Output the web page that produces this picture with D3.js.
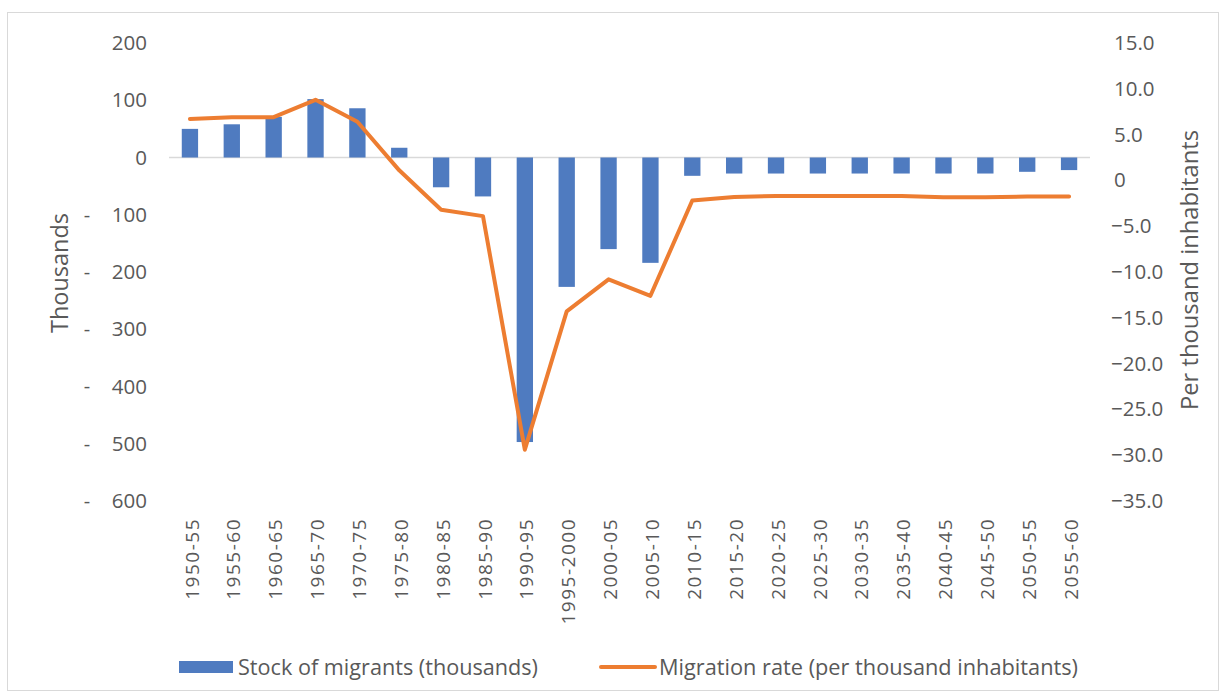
<!DOCTYPE html>
<html>
<head>
<meta charset="utf-8">
<script src="https://cdnjs.cloudflare.com/ajax/libs/d3/7.8.5/d3.min.js"></script>
<style>
  body { margin: 0; background: #fff; }
  text { font-family: "Open Sans", "Liberation Sans", sans-serif; fill: #595959; }
</style>
</head>
<body>
<div id="chart"></div>
<script>
// data
var periods = ["1950-55", "1955-60", "1960-65", "1965-70", "1970-75", "1975-80", "1980-85",
    "1985-90", "1990-95", "1995-2000", "2000-05", "2005-10", "2010-15", "2015-20", "2020-25",
    "2025-30", "2030-35", "2035-40", "2040-45", "2045-50", "2050-55", "2055-60"];
var stock = [50, 58, 71, 102, 86, 17, -52, -68, -497, -226, -160, -184,
    -32, -28, -28, -28, -28, -28, -28, -28, -25, -22];
var rate = [6.7, 6.9, 6.9, 8.8, 6.4, 1.1, -3.2, -3.9, -29.4, -14.3, -10.8, -12.6,
    -2.2, -1.8, -1.7, -1.7, -1.7, -1.7, -1.85, -1.85, -1.75, -1.75];
var leftTicks = [200, 100, 0, -100, -200, -300, -400, -500, -600];
var rightTicks = [15, 10, 5, 0, -5, -10, -15, -20, -25, -30, -35];

var svgWidth = 1226;
var svgHeight = 699;

var margin = { top: 43, right: 136, bottom: 198, left: 169 };
var width = svgWidth - margin.left - margin.right;
var height = svgHeight - margin.top - margin.bottom;

var svg = d3.select("#chart")
    .append("svg")
    .attr("width", svgWidth)
    .attr("height", svgHeight);

// outer chart border
svg.append("rect")
    .attr("x", 7.5).attr("y", 12.5)
    .attr("width", 1211).attr("height", 678)
    .attr("fill", "none")
    .attr("stroke", "#d9d9d9");

var chartGroup = svg.append("g")
    .attr("transform", `translate(${margin.left}, ${margin.top})`);

var xScale = d3.scaleBand()
    .domain(periods)
    .range([0, width])
    .paddingInner(0.61)
    .paddingOuter(0.305);

var yLeft = d3.scaleLinear().domain([-600, 200]).range([height, 0]);
var yRight = d3.scaleLinear().domain([-35, 15]).range([height, 0]);

// zero line
chartGroup.append("line")
    .attr("x1", 0).attr("x2", width)
    .attr("y1", yLeft(0)).attr("y2", yLeft(0))
    .attr("stroke", "#d9d9d9")
    .attr("stroke-width", 1.5);

// bars
chartGroup.selectAll(".bar")
    .data(stock)
    .enter()
    .append("rect")
    .attr("class", "bar")
    .attr("x", (d, i) => xScale(periods[i]))
    .attr("width", xScale.bandwidth())
    .attr("y", d => yLeft(Math.max(0, d)))
    .attr("height", d => Math.abs(yLeft(d) - yLeft(0)))
    .attr("fill", "#4f7bc0");

// line
var line = d3.line()
    .x((d, i) => xScale(periods[i]) + xScale.bandwidth() / 2)
    .y(d => yRight(d));

chartGroup.append("path")
    .datum(rate)
    .attr("d", line)
    .attr("fill", "none")
    .attr("stroke", "#ed7d31")
    .attr("stroke-width", 4)
    .attr("stroke-linejoin", "round")
    .attr("stroke-linecap", "round");

// left axis, accounting style labels
var leftAxis = chartGroup.append("g")
    .attr("class", "y-axis")
    .call(d3.axisLeft(yLeft).tickValues(leftTicks).tickSize(0).tickPadding(0)
        .tickFormat(d => Math.abs(d)));
leftAxis.select(".domain").remove();
leftAxis.selectAll("text")
    .attr("x", -22)
    .style("font-size", "20.5px")
    .style("fill", "#595959");
leftAxis.selectAll(".tick")
    .filter(d => d < 0)
    .append("text")
    .attr("x", -82)
    .attr("dy", "0.32em")
    .style("font-size", "20px")
    .style("text-anchor", "middle")
    .text("-");

// right axis
var rightAxis = chartGroup.append("g")
    .attr("class", "y-axis-right")
    .attr("transform", `translate(${width}, 0)`)
    .call(d3.axisRight(yRight).tickValues(rightTicks).tickSize(0).tickPadding(0)
        .tickFormat(d => d === 0 ? "0" : d3.format(".1f")(d)));
rightAxis.select(".domain").remove();
rightAxis.selectAll("text")
    .attr("x", d => d < 0 ? 21 : 24)
    .style("font-size", "20.5px")
    .style("fill", "#595959");

// x axis labels, rotated
var xAxis = chartGroup.append("g")
    .attr("transform", `translate(0, ${height})`)
    .call(d3.axisBottom(xScale).tickSize(0).tickPadding(0));
xAxis.select(".domain").remove();
xAxis.selectAll("text")
    .attr("transform", "rotate(-90)")
    .attr("x", -17)
    .attr("y", 2)
    .attr("dy", "0.35em")
    .style("text-anchor", "end")
    .style("font-size", "19px")
    .style("letter-spacing", "1.5px")
    .style("fill", "#595959");

// axis titles
svg.append("text")
    .attr("transform", "translate(60, 273) rotate(-90)")
    .attr("dy", "0.35em")
    .attr("textLength", 120)
    .attr("lengthAdjust", "spacingAndGlyphs")
    .style("text-anchor", "middle")
    .style("font-size", "23px")
    .text("Thousands");

svg.append("text")
    .attr("transform", "translate(1190, 270) rotate(-90)")
    .attr("dy", "0.35em")
    .attr("textLength", 280)
    .attr("lengthAdjust", "spacingAndGlyphs")
    .style("text-anchor", "middle")
    .style("font-size", "23px")
    .text("Per thousand inhabitants");

// legend
var legend = svg.append("g");
legend.append("rect")
    .attr("x", 179).attr("y", 661)
    .attr("width", 54).attr("height", 12)
    .attr("fill", "#4f7bc0");
legend.append("text")
    .attr("x", 238).attr("y", 667)
    .attr("dy", "0.35em")
    .attr("textLength", 300)
    .attr("lengthAdjust", "spacingAndGlyphs")
    .style("font-size", "22px")
    .text("Stock of migrants (thousands)");
legend.append("line")
    .attr("x1", 601).attr("x2", 655)
    .attr("y1", 667).attr("y2", 667)
    .attr("stroke", "#ed7d31")
    .attr("stroke-width", 4)
    .attr("stroke-linecap", "round");
legend.append("text")
    .attr("x", 659).attr("y", 667)
    .attr("dy", "0.35em")
    .attr("textLength", 419)
    .attr("lengthAdjust", "spacingAndGlyphs")
    .style("font-size", "22px")
    .text("Migration rate (per thousand inhabitants)");
</script>
</body>
</html>
